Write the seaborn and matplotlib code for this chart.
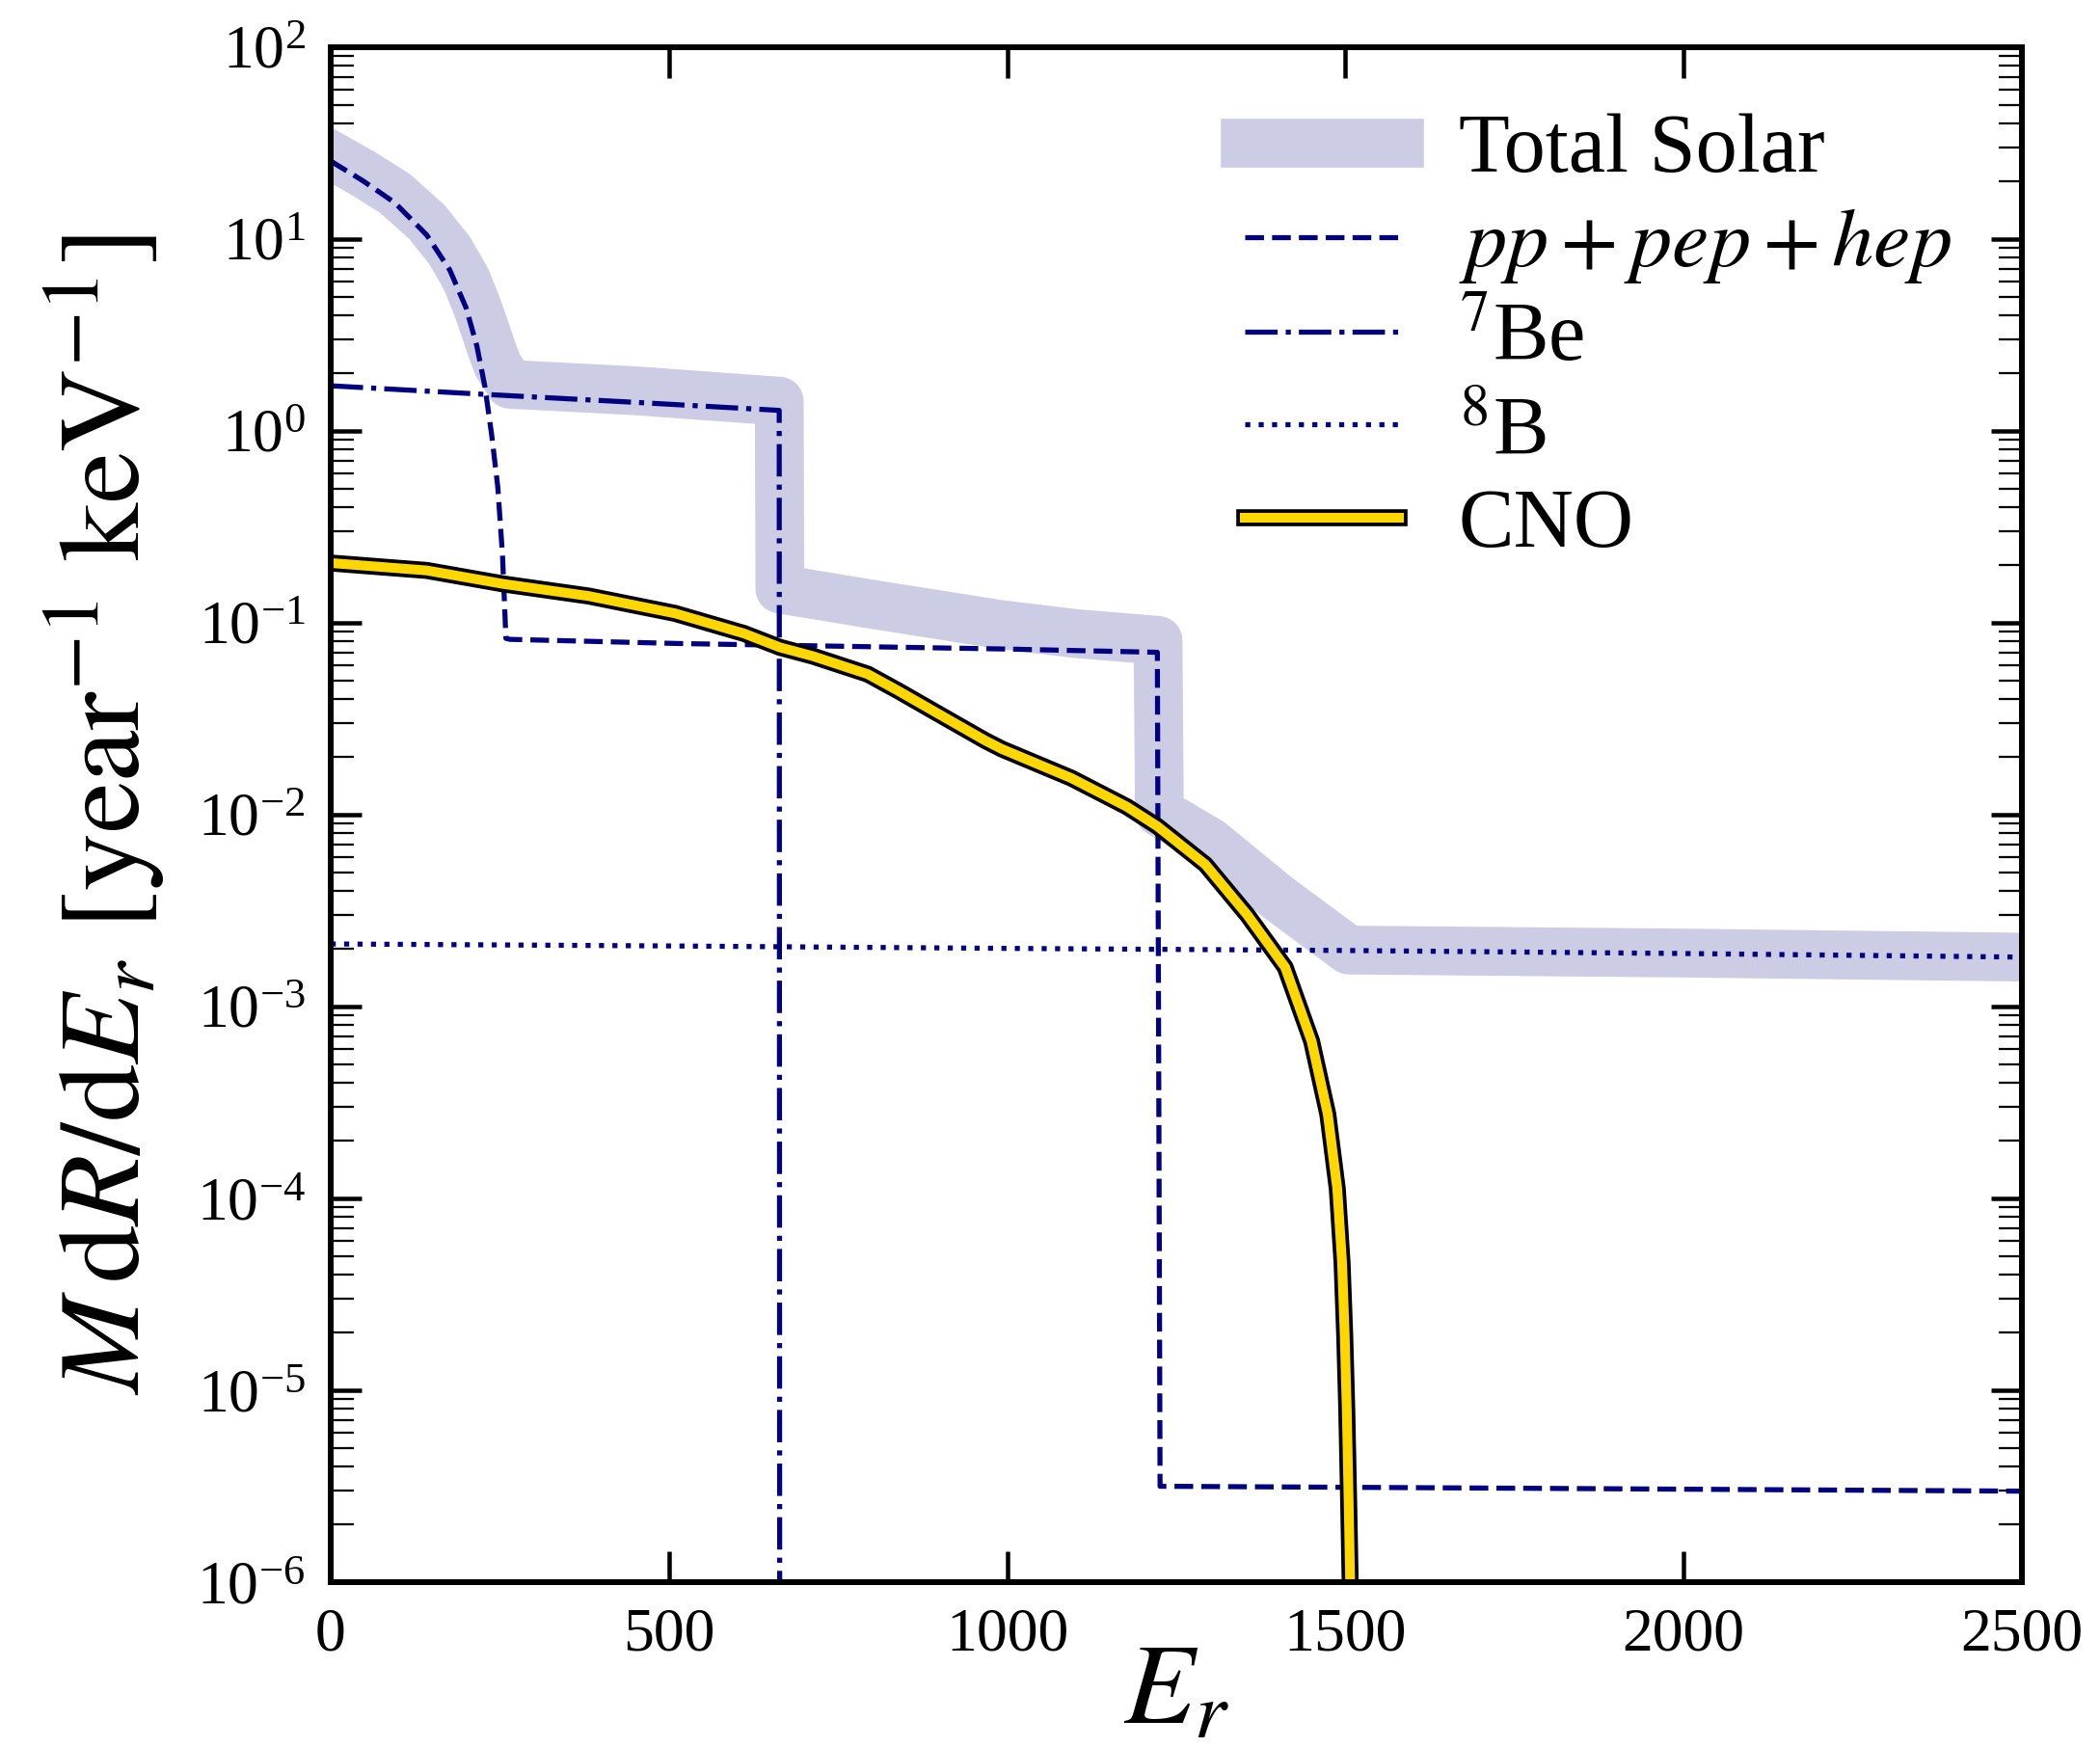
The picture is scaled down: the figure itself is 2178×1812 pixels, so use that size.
import numpy as np
import pandas as pd
import matplotlib
matplotlib.use("Agg")
import matplotlib.pyplot as plt
import matplotlib.patheffects as pe
from matplotlib.ticker import LogLocator, NullFormatter, FixedLocator
import seaborn as sns

# ---------------- data ----------------
tot_x = [0, 47, 95, 142, 176, 200, 216, 228, 238, 247, 265, 450, 663, 664,
         800, 990, 1100, 1223, 1225, 1300, 1400, 1505, 2000, 2500]
tot_y = [27.4, 22.1, 17.3, 12.3, 8.7, 6.2, 4.5, 3.4, 2.67, 2.2, 1.75, 1.62,
         1.43, 0.150, 0.125, 0.098, 0.088, 0.081, 0.0103, 0.0072, 0.0037,
         0.00197, 0.00190, 0.00181]

pp_x = [0, 47, 95, 142, 176, 200, 216, 228, 238, 247, 254, 259, 265, 515,
        1000, 1222, 1226, 1800, 2500]
pp_y = [25.5, 20.2, 15.45, 10.5, 6.9, 4.4, 2.78, 1.70, 0.95, 0.51, 0.224,
        0.083, 0.082, 0.078, 0.073, 0.0702, 3.16e-6, 3.08e-6, 2.98e-6]

be7_x = [0, 230, 450, 663, 664]
be7_y = [1.72, 1.55, 1.41, 1.28, 1e-9]

b8_x = [0, 500, 1000, 1500, 2000, 2500]
b8_y = [2.12e-3, 2.07e-3, 2.01e-3, 1.96e-3, 1.89e-3, 1.81e-3]

cno_x = [0, 142, 255, 382, 509, 611, 664, 713, 794, 840, 891, 967, 992,
         1095, 1177, 1222, 1293, 1355, 1411, 1450, 1474, 1488, 1495, 1499,
         1502, 1505, 1507, 1509]
cno_y = [0.205, 0.1875, 0.1595, 0.1378, 0.112, 0.088, 0.0745, 0.067, 0.054,
         0.044, 0.0347, 0.0244, 0.022, 0.0155, 0.011, 0.0087, 0.0055, 0.0030,
         0.0016, 6.6e-4, 2.74e-4, 1.12e-4, 4.66e-5, 1.91e-5, 7.9e-6, 2.4e-6,
         1.0e-6, 1e-9]

labels = ["Total Solar", r"$pp + pep + hep$", r"$^{7}$Be", r"$^{8}$B", "CNO"]
x_ticks = [0, 500, 1000, 1500, 2000, 2500]

# ---------------- style ----------------
sns.set_theme(style="ticks")
plt.rcParams["font.family"] = ["Liberation Serif", "DejaVu Serif"]
plt.rcParams["mathtext.fontset"] = "stix"
plt.rcParams["axes.linewidth"] = 1.6
plt.rcParams["text.color"] = "black"
plt.rcParams["axes.labelcolor"] = "black"
plt.rcParams["xtick.color"] = "black"
plt.rcParams["ytick.color"] = "black"
plt.rcParams["lines.solid_capstyle"] = "projecting"
plt.rcParams["lines.solid_joinstyle"] = "round"

DPI = 270
fig = plt.figure(figsize=(2178 / DPI, 1812 / DPI), dpi=DPI)
ax = fig.add_axes([0.15748, 0.09437, 0.80533, 0.87859])

navy = "#000080"

def df(x, y):
    return pd.DataFrame({"x": x, "y": y})

common = dict(x="x", y="y", ax=ax, estimator=None, errorbar=None, sort=False)

sns.lineplot(data=df(tot_x, tot_y), color="#CCCCE5", lw=13.5,
             solid_joinstyle="round", solid_capstyle="projecting",
             label=labels[0], **common)
sns.lineplot(data=df(pp_x, pp_y), color=navy, lw=1.4, linestyle="--",
             label=labels[1], **common)
sns.lineplot(data=df(be7_x, be7_y), color=navy, lw=1.4, linestyle="-.",
             label=labels[2], **common)
sns.lineplot(data=df(b8_x, b8_y), color=navy, lw=1.4, linestyle=":",
             label=labels[3], **common)
sns.lineplot(data=df(cno_x, cno_y), color="#FFD700", lw=2.7,
             solid_capstyle="projecting",
             path_effects=[pe.Stroke(linewidth=4.7, foreground="black"),
                           pe.Normal()],
             label=labels[4], **common)

ax.set_yscale("log")
ax.set_xlim(0, 2500)
ax.set_ylim(1e-6, 1e2)

ax.xaxis.set_major_locator(FixedLocator(x_ticks))
ax.yaxis.set_major_locator(LogLocator(base=10, numticks=20))
ax.yaxis.set_minor_locator(LogLocator(base=10, subs=np.arange(2, 10), numticks=20))
ax.yaxis.set_minor_formatter(NullFormatter())

ax.tick_params(axis="both", which="major", direction="in", length=8.5,
               width=1.2, top=True, right=True, labelsize=17, pad=7,
               colors="black")
ax.tick_params(axis="y", which="minor", direction="in", length=6.3,
               width=0.6, left=True, right=True, colors="black")
ax.tick_params(axis="x", which="minor", bottom=False, top=False)

for s in ax.spines.values():
    s.set_linewidth(1.6)
    s.set_color("black")

ax.set_xlabel(r"$E_r$", fontsize=32, labelpad=-6, color="black")
ax.set_ylabel(r"$M\,\mathrm{d}R/\mathrm{d}E_r\ [\mathrm{year}^{-1}\ \mathrm{keV}^{-1}]$",
              fontsize=32, labelpad=8, color="black")

leg = ax.legend(loc="upper right", bbox_to_anchor=(0.968, 0.968), frameon=False,
                fontsize=23, handlelength=1.85, handletextpad=0.72,
                labelspacing=0.2, borderpad=0.2, borderaxespad=0)
for t in leg.get_texts():
    t.set_color("black")

fig.savefig("out.png", dpi=DPI)
